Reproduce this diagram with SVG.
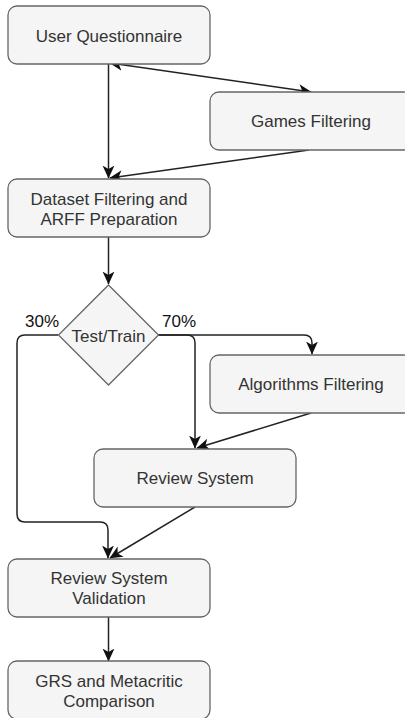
<svg xmlns="http://www.w3.org/2000/svg" width="405" height="718" viewBox="0 0 405 718">
<style>
.box{fill:#f5f5f5;stroke:#666;stroke-width:1.3}
.t{font-family:"Liberation Sans",Arial,Helvetica,sans-serif;font-size:17px;fill:#333;text-anchor:middle}
.lbl{font-family:"Liberation Sans",Arial,Helvetica,sans-serif;font-size:17px;fill:#111}
.c{fill:none;stroke:#222;stroke-width:1.5}
</style>
<defs>
<marker id="arr" markerUnits="userSpaceOnUse" markerWidth="13" markerHeight="13" viewBox="0 0 12 11" refX="11.5" refY="5.5" orient="auto-start-reverse">
<path d="M0,0 L12,5.5 L0,11 L3.3,5.5 Z" fill="#111"/>
</marker>
</defs>
<rect width="405" height="718" fill="#fff"/>
<g id="connectors">
<path class="c" d="M108.5,64 L108.5,178" marker-end="url(#arr)"/>
<path class="c" d="M110,63 L311,92" marker-start="url(#arr)" marker-end="url(#arr)"/>
<path class="c" d="M309,150 L110,178" marker-end="url(#arr)"/>
<path class="c" d="M108.5,237 L108.5,284" marker-end="url(#arr)"/>
<path class="c" d="M158,335 L187,335 Q195,335 195,343 L195,448" marker-end="url(#arr)"/>
<path class="c" d="M158,335 L304,335 Q312,335 312,343 L312,354" marker-end="url(#arr)"/>
<path class="c" d="M311,413 L197,448" marker-end="url(#arr)"/>
<path class="c" d="M58,335 L25,335 Q17,335 17,343 L17,514 Q17,522 25,522 L100,522 Q108,522 108,530 L108,558" marker-end="url(#arr)"/>
<path class="c" d="M195,507 L110,558" marker-end="url(#arr)"/>
<path class="c" d="M108.5,617 L108.5,661" marker-end="url(#arr)"/>
</g>
<g id="user-questionnaire">
<rect class="box" x="8" y="6" width="202" height="58" rx="9"/>
<text class="t" x="109" y="41.5">User Questionnaire</text>
</g>
<g id="games-filtering">
<rect class="box" x="210" y="92" width="202" height="58" rx="9"/>
<text class="t" x="311" y="127">Games Filtering</text>
</g>
<g id="dataset-filtering">
<rect class="box" x="8" y="179" width="202" height="58" rx="9"/>
<text class="t" x="109" y="204.5">Dataset Filtering and</text>
<text class="t" x="109" y="224.5">ARFF Preparation</text>
</g>
<g id="test-train">
<path class="box" d="M108.5,285 L158.5,335 L108.5,385 L58.5,335 Z"/>
<text class="t" x="108.5" y="341.5">Test/Train</text>
</g>
<text class="lbl" x="25" y="327">30%</text>
<text class="lbl" x="162" y="327">70%</text>
<g id="algorithms-filtering">
<rect class="box" x="210" y="355" width="202" height="58" rx="9"/>
<text class="t" x="311" y="390">Algorithms Filtering</text>
</g>
<g id="review-system">
<rect class="box" x="94" y="449" width="202" height="58" rx="9"/>
<text class="t" x="195" y="484">Review System</text>
</g>
<g id="review-system-validation">
<rect class="box" x="8" y="559" width="202" height="58" rx="9"/>
<text class="t" x="109" y="584">Review System</text>
<text class="t" x="109" y="604">Validation</text>
</g>
<g id="grs-metacritic">
<rect class="box" x="8" y="661" width="202" height="58" rx="9"/>
<text class="t" x="109" y="687">GRS and Metacritic</text>
<text class="t" x="109" y="707">Comparison</text>
</g>
</svg>
